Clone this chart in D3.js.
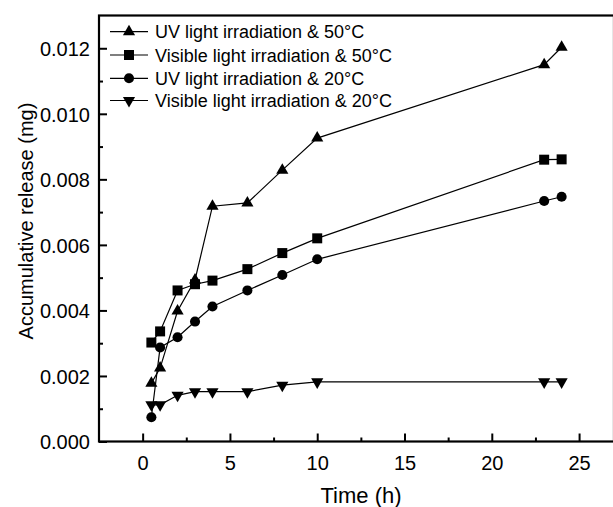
<!DOCTYPE html>
<html>
<head>
<meta charset="utf-8">
<script src="https://cdn.jsdelivr.net/npm/d3@7"></script>
<style>
  body { margin: 0; background: #fff; }
  svg { display: block; font-family: "Liberation Sans", Arial, sans-serif; }
</style>
</head>
<body>
<script>
// data
const times = [0.5, 1, 2, 3, 4, 6, 8, 10, 23, 24]
const uv50 = [0.00178, 0.00224, 0.00398, 0.00493, 0.00718, 0.00728, 0.00828, 0.00926, 0.01150, 0.01203]
const vis50 = [0.00302, 0.00336, 0.00461, 0.00480, 0.00491, 0.00526, 0.00575, 0.00620, 0.00860, 0.00861]
const uv20 = [0.00074, 0.00287, 0.00318, 0.00366, 0.00412, 0.00461, 0.00508, 0.00556, 0.00734, 0.00747]
const vis20 = [0.00112, 0.00112, 0.00141, 0.00152, 0.00152, 0.00152, 0.00172, 0.00182, 0.00182, 0.00182]
const seriesNames = ["UV light irradiation & 50°C", "Visible light irradiation & 50°C", "UV light irradiation & 20°C", "Visible light irradiation & 20°C"]
const xTicks = [0, 5, 10, 15, 20, 25]
const yTicks = [0, 0.002, 0.004, 0.006, 0.008, 0.010, 0.012]

const W = 613, H = 507
const svg = d3.select("body").append("svg").attr("width", W).attr("height", H)

const x = d3.scaleLinear().domain([-2.5, 27]).range([99, 614])
const y = d3.scaleLinear().domain([0, 0.013]).range([441.5, 15.5])

// symbols
const symbols = [
  {type: d3.symbolTriangle, size: 64, rot: 0},
  {type: d3.symbolSquare, size: 100, rot: 0},
  {type: d3.symbolCircle, size: 80, rot: 0},
  {type: d3.symbolTriangle, size: 64, rot: 180}
]
const allSeries = [uv50, vis50, uv20, vis20]

// minor ticks
svg.append("g").attr("transform", "translate(0,441.5)")
  .call(d3.axisBottom(x).tickValues([2.5, 7.5, 12.5, 17.5, 22.5]).tickSize(-4).tickFormat(""))
svg.append("g").attr("transform", "translate(99,0)")
  .call(d3.axisLeft(y).tickValues([0.001, 0.003, 0.005, 0.007, 0.009, 0.011]).tickSize(-4).tickFormat(""))

// major ticks
const xa = svg.append("g").attr("transform", "translate(0,441.5)")
  .call(d3.axisBottom(x).tickValues(xTicks).tickSize(-8).tickPadding(14).tickFormat(d3.format("d")))
const ya = svg.append("g").attr("transform", "translate(99,0)")
  .call(d3.axisLeft(y).tickValues(yTicks).tickSize(-8).tickPadding(9).tickFormat(d3.format(".3f")))

svg.selectAll(".domain").remove()
svg.selectAll(".tick line").attr("stroke", "#000").attr("stroke-width", 2)
svg.selectAll(".tick text").attr("font-size", 20).attr("fill", "#000").attr("font-family", "Liberation Sans, Arial, sans-serif")
ya.selectAll(".tick text").attr("dy", "0.36em")

// frame
svg.append("rect").attr("x", 99).attr("y", 15.5).attr("width", 515).attr("height", 426)
  .attr("fill", "none").attr("stroke", "#000").attr("stroke-width", 2.2)

// lines + markers
const line = d3.line().x((d, i) => x(times[i])).y(d => y(d))
allSeries.forEach((s, k) => {
  svg.append("path").datum(s).attr("d", line)
    .attr("fill", "none").attr("stroke", "#000").attr("stroke-width", 1.2)
  svg.selectAll(".m" + k).data(s).enter().append("path")
    .attr("class", "m" + k)
    .attr("d", d3.symbol().type(symbols[k].type).size(symbols[k].size))
    .attr("transform", (d, i) => `translate(${x(times[i])},${y(d)}) rotate(${symbols[k].rot})`)
    .attr("fill", "#000")
})

// legend
const legY = [31.7, 55, 78.3, 100.5]
seriesNames.forEach((n, k) => {
  const g = svg.append("g").attr("transform", `translate(0,${legY[k]})`)
  g.append("line").attr("x1", 110).attr("x2", 148).attr("stroke", "#000").attr("stroke-width", 1.2)
  g.append("path").attr("d", d3.symbol().type(symbols[k].type).size(symbols[k].size))
    .attr("transform", `translate(129,0) rotate(${symbols[k].rot})`).attr("fill", "#000")
  g.append("text").attr("x", 155).attr("y", 6.5).attr("font-size", 18).text(n)
})

// axis titles
svg.append("text").attr("x", 361).attr("y", 503).attr("text-anchor", "middle")
  .attr("font-size", 22).text("Time (h)")
svg.append("text").attr("transform", "translate(33,221) rotate(-90)").attr("text-anchor", "middle")
  .attr("font-size", 20).text("Accumulative release (mg)")
</script>
</body>
</html>
